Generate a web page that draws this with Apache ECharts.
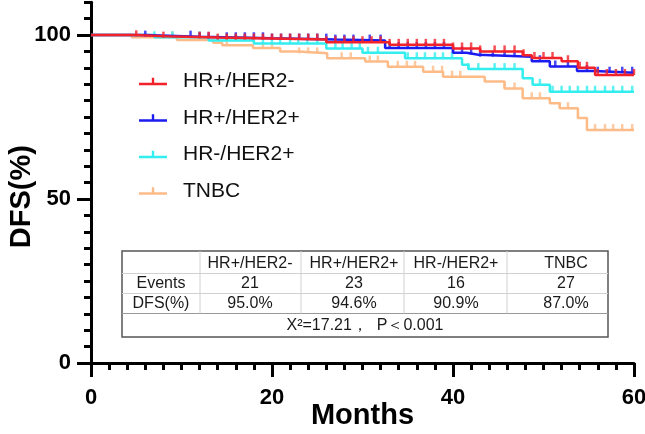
<!DOCTYPE html>
<html><head><meta charset="utf-8">
<script src="https://cdn.jsdelivr.net/npm/echarts@6/dist/echarts.min.js"></script>
<style>html,body{margin:0;padding:0;background:#fff}#c{width:645px;height:434px}</style>
</head><body><div id="c"></div>
<script>
// ---------------- data ----------------
const groupNames = ['HR+/HER2-', 'HR+/HER2+', 'HR-/HER2+', 'TNBC'];
const groupColors = ['#F2222B', '#1C1CF0', '#33EDEF', '#FDBB88'];

// Kaplan-Meier step curves: [month, DFS%] (value holds from that month onward)
const stepsHRposHER2neg = [[0,100],[5,99.6],[8,99.2],[14,98.6],[26,97.8],[33,97.0],[40,95.9],[43,95.0],[47.7,93.8],[48.7,93.0],[52,92.0],[53.8,90.0],[55.7,87.8],[60,87.8]];
const stepsHRposHER2pos = [[0,100],[6,99.5],[12,99.0],[20,98.6],[27,98.3],[32.5,96.0],[40,94.6],[41.5,94.0],[42.8,93.4],[48.7,92.0],[50.7,90.4],[53.7,89.0],[55.7,88.5],[60,88.5]];
const stepsHRnegHER2pos = [[0,100],[7,99.3],[13,98.3],[18,97.4],[26,95.9],[30,94.6],[34.7,92.9],[41,90.9],[41.7,89.6],[47.7,86.8],[48.8,84.8],[50.7,82.7],[60,82.7]];
const stepsTNBC = [[0,100],[4.5,99.3],[9.5,98.5],[13.5,97.6],[14.5,96.9],[17.9,96.0],[20.9,95.0],[22.9,94.4],[26.1,92.9],[30.3,91.9],[32.8,90.3],[36.7,88.8],[38.9,87.3],[43.5,85.8],[45.7,83.7],[47.7,80.7],[50.7,79.2],[51.8,77.7],[53.8,74.7],[54.8,71.0],[60,71.0]];

// censoring times (months)
const censorHRposHER2neg = [5,8,12,13,14,15,16,17,18,19,20,21,22,23,24,25,26,27,28,29,30,31,32,33,34,35,36,37,38,39,40,41,42,43,44.6,45.7,46.8,47.8,49,50,51,52.7,54,54.8,56,57,58,59,60];
const censorHRposHER2pos = [6,11,12,13,15,16,17,18,19,20,21,22,23,24,25,26,27,28,29,30.8,32,33,34,35,36,37,38,39,40,41,42,43,44.4,45.7,46.8,49.6,51.3,52.7,54.8,56,57.3,58.7,59.8];
const censorHRnegHER2pos = [7,9,12,14,16,17,19,20,20.9,22,22.9,23.9,25,27,27.8,28.8,29.7,30.6,31.7,35,36,36.9,38,38.9,39.9,41.7,42.8,44.6,45.7,46.8,49.6,51,52,52.9,53.8,54.8,55.7,56.8,57.7,58.7,59.8];
const censorTNBC = [9,12,15,19,20,23,24,25,27.7,28.7,30.8,31.7,33.9,34.9,35.8,37.8,38.8,39.9,40.8,45.7,46.8,48.7,49.6,51.8,52.7,55.7,56.8,57.7,58.7,59.8];

const xTickValues = [0, 20, 40, 60];
const yTickValues = [0, 50, 100];

const tableHeader = ['', 'HR+/HER2-', 'HR+/HER2+', 'HR-/HER2+', 'TNBC'];
const tableEvents = ['Events', '21', '23', '16', '27'];
const tableDFS = ['DFS(%)', '95.0%', '94.6%', '90.9%', '87.0%'];
const tableStat = 'X²=17.21，  P＜0.001';

// ---------------- build ----------------
const allSteps = [stepsHRposHER2neg, stepsHRposHER2pos, stepsHRnegHER2pos, stepsTNBC];
const allCensor = [censorHRposHER2neg, censorHRposHER2pos, censorHRnegHER2pos, censorTNBC];

function valueAt(steps, m) {
  let v = steps[0][1];
  for (const s of steps) { if (s[0] <= m) v = s[1]; else break; }
  return v;
}

const FONT = '"Liberation Sans", Arial, sans-serif';
const series = [];
[3, 2, 1, 0].forEach(i => {
  series.push({
    name: groupNames[i], type: 'line', step: 'end', showSymbol: false, symbol: 'none',
    data: allSteps[i], color: groupColors[i],
    lineStyle: { color: groupColors[i], width: 2.5 }, z: 2 + (3 - i), animation: false
  });
  series.push({
    name: groupNames[i], type: 'scatter',
    data: allCensor[i].map(m => [m, valueAt(allSteps[i], m)]),
    symbol: 'rect', symbolSize: [2.5, 6], symbolOffset: [0, -3],
    itemStyle: { color: groupColors[i] }, z: 2 + (3 - i), animation: false, silent: true
  });
});

// table graphics
const tX = [122, 200, 301, 404, 507, 608];
const tY = [251, 273.5, 293.5, 313.5, 337];
const colCenters = [161, 250, 354, 456, 566];
const rowCenters = [264, 283.5, 304];
const graphics = [];
graphics.push({ type: 'rect', shape: { x: tX[0], y: tY[0], width: tX[5] - tX[0], height: tY[4] - tY[0] },
  style: { fill: '#fff', stroke: '#555', lineWidth: 1.5 }, z: 1 });
[1, 2, 3].forEach(r => graphics.push({ type: 'line', shape: { x1: tX[0], y1: tY[r], x2: tX[5], y2: tY[r] },
  style: { stroke: r === 3 ? '#999' : '#d0d0d0', lineWidth: 1 }, z: 2 }));
[1, 2, 3, 4].forEach(c => graphics.push({ type: 'line', shape: { x1: tX[c], y1: tY[0], x2: tX[c], y2: tY[3] },
  style: { stroke: '#d0d0d0', lineWidth: 1 }, z: 2 }));
[tableHeader, tableEvents, tableDFS].forEach((row, r) => {
  row.forEach((txt, c) => {
    if (!txt) return;
    graphics.push({ type: 'text', x: colCenters[c], y: rowCenters[r], z: 3,
      style: { text: txt, fontSize: 16, fontFamily: FONT, fill: '#1a1a1a', align: 'center', verticalAlign: 'middle' } });
  });
});
graphics.push({ type: 'text', x: 365, y: 326, z: 3,
  style: { text: tableStat, fontSize: 16, fontFamily: FONT, fill: '#1a1a1a', align: 'center', verticalAlign: 'middle' } });

const axisLbl = { fontSize: 22, fontWeight: 'bold', fontFamily: FONT, color: '#000' };

const option = {
  backgroundColor: '#fff',
  animation: false,
  grid: { left: 91, right: 11, top: 2.2, bottom: 71, containLabel: false, outerBoundsMode: 'none' },
  legend: {
    show: true, orient: 'vertical', left: 139, top: 71, padding: 0,
    data: groupNames, itemWidth: 28, itemHeight: 7.5, itemGap: 15.5,
    icon: 'path://M0,5h28v2.5h-28z M12.8,0h2.4v5h-2.4z',
    textStyle: { fontSize: 21, fontFamily: FONT, color: '#111', lineHeight: 21, padding: [0, 0, 0, 11] },
    selectedMode: false
  },
  xAxis: {
    type: 'value', min: 0, max: 60, interval: 20,
    name: 'Months', nameLocation: 'middle', nameGap: 38, nameMoveOverlap: false,
    nameTextStyle: { fontSize: 29, fontWeight: 'bold', fontFamily: FONT, color: '#000' },
    axisLine: { show: true, onZero: false, lineStyle: { color: '#000', width: 3 } },
    axisTick: { show: true, length: 14, customValues: xTickValues, lineStyle: { color: '#000', width: 3 } },
    minorTick: { show: true, splitNumber: 10, length: 7, lineStyle: { color: '#000', width: 3 } },
    axisLabel: Object.assign({ margin: 24, customValues: xTickValues }, axisLbl),
    splitLine: { show: false }, minorSplitLine: { show: false }
  },
  yAxis: [
    {
      type: 'value', min: 0, max: 110, interval: 5, position: 'left',
      axisLine: { show: true, onZero: false, lineStyle: { color: '#000', width: 3 } },
      axisTick: { show: true, length: 7, lineStyle: { color: '#000', width: 3 } },
      axisLabel: { show: false }, splitLine: { show: false }
    },
    {
      type: 'value', min: 0, max: 110, interval: 50, position: 'left',
      name: 'DFS(%)', nameLocation: 'middle', nameGap: 55, nameRotate: 90, nameMoveOverlap: false,
      nameTextStyle: { fontSize: 29, fontWeight: 'bold', fontFamily: FONT, color: '#000', padding: [0, 28, 0, 0] },
      axisLine: { show: false, onZero: false },
      axisTick: { show: true, length: 14, customValues: yTickValues, lineStyle: { color: '#000', width: 3 } },
      axisLabel: Object.assign({ margin: 20, customValues: yTickValues }, axisLbl),
      splitLine: { show: false }
    }
  ],
  series: series,
  graphic: graphics
};

const chart = echarts.init(document.getElementById('c'), null, { renderer: 'canvas' });
chart.setOption(option);
</script>
</body></html>
